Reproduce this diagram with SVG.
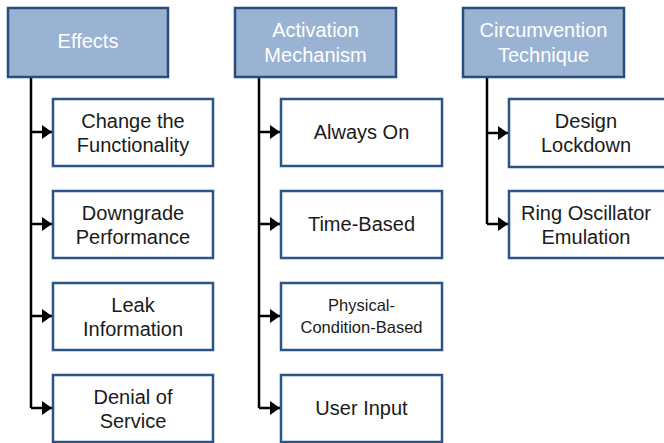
<svg xmlns="http://www.w3.org/2000/svg" width="664" height="443" viewBox="0 0 664 443">
  <style>
    .head rect { fill: #9ab3d3; stroke: #264f80; stroke-width: 2.5; }
    .head text { fill: #ffffff; font-family: "Liberation Sans", Arial, sans-serif; font-size: 20px; text-anchor: middle; }
    .leaf rect { fill: #ffffff; stroke: #2b5587; stroke-width: 2.5; }
    .leaf text { fill: #1a1a1a; font-family: "Liberation Sans", Arial, sans-serif; font-size: 20px; text-anchor: middle; }
    .leaf text.small { font-size: 16.5px; }
    .wire { fill: none; stroke: #000000; stroke-width: 2.5; }
  </style>
  <defs>
    <marker id="arrow" viewBox="0 0 10 14" refX="10" refY="7" markerWidth="10" markerHeight="14" markerUnits="userSpaceOnUse" orient="auto">
      <path d="M0,0 L10,7 L0,14 Z" fill="#000000"/>
    </marker>
  </defs>

  <rect width="664" height="443" fill="#ffffff"/>

  <!-- connectors -->
  <g id="connectors">
    <path class="wire" d="M31,77 V408"/>
    <path class="wire" d="M31,132 H52" marker-end="url(#arrow)"/>
    <path class="wire" d="M31,224 H52" marker-end="url(#arrow)"/>
    <path class="wire" d="M31,316 H52" marker-end="url(#arrow)"/>
    <path class="wire" d="M31,408 H52" marker-end="url(#arrow)"/>

    <path class="wire" d="M259,77 V408"/>
    <path class="wire" d="M259,132 H280" marker-end="url(#arrow)"/>
    <path class="wire" d="M259,224 H280" marker-end="url(#arrow)"/>
    <path class="wire" d="M259,316 H280" marker-end="url(#arrow)"/>
    <path class="wire" d="M259,408 H280" marker-end="url(#arrow)"/>

    <path class="wire" d="M487,77 V224"/>
    <path class="wire" d="M487,133 H508" marker-end="url(#arrow)"/>
    <path class="wire" d="M487,224 H508" marker-end="url(#arrow)"/>
  </g>

  <!-- column 1 -->
  <g id="effects" class="head">
    <rect x="8" y="8" width="160" height="69"/>
    <text x="88" y="48">Effects</text>
  </g>
  <g id="change-functionality" class="leaf">
    <rect x="53" y="99" width="160" height="67"/>
    <text x="133" y="128">Change the</text>
    <text x="133" y="152">Functionality</text>
  </g>
  <g id="downgrade-performance" class="leaf">
    <rect x="53" y="191" width="160" height="67"/>
    <text x="133" y="220">Downgrade</text>
    <text x="133" y="244">Performance</text>
  </g>
  <g id="leak-information" class="leaf">
    <rect x="53" y="283" width="160" height="67"/>
    <text x="133" y="312">Leak</text>
    <text x="133" y="336">Information</text>
  </g>
  <g id="denial-of-service" class="leaf">
    <rect x="53" y="375" width="160" height="67"/>
    <text x="133" y="404">Denial of</text>
    <text x="133" y="428">Service</text>
  </g>

  <!-- column 2 -->
  <g id="activation-mechanism" class="head">
    <rect x="235" y="8" width="161" height="69"/>
    <text x="315.5" y="37">Activation</text>
    <text x="315.5" y="62">Mechanism</text>
  </g>
  <g id="always-on" class="leaf">
    <rect x="281" y="99" width="161" height="67"/>
    <text x="361.5" y="139">Always On</text>
  </g>
  <g id="time-based" class="leaf">
    <rect x="281" y="191" width="161" height="67"/>
    <text x="361.5" y="231">Time-Based</text>
  </g>
  <g id="physical-condition-based" class="leaf">
    <rect x="281" y="283" width="161" height="67"/>
    <text class="small" x="361.5" y="311">Physical-</text>
    <text class="small" x="361.5" y="333">Condition-Based</text>
  </g>
  <g id="user-input" class="leaf">
    <rect x="281" y="375" width="161" height="67"/>
    <text x="361.5" y="415">User Input</text>
  </g>

  <!-- column 3 -->
  <g id="circumvention-technique" class="head">
    <rect x="463" y="8" width="161" height="69"/>
    <text x="543.5" y="37">Circumvention</text>
    <text x="543.5" y="62">Technique</text>
  </g>
  <g id="design-lockdown" class="leaf">
    <rect x="509" y="99" width="161" height="68"/>
    <text x="586" y="128">Design</text>
    <text x="586" y="152">Lockdown</text>
  </g>
  <g id="ring-oscillator-emulation" class="leaf">
    <rect x="509" y="191" width="161" height="67"/>
    <text x="586" y="220">Ring Oscillator</text>
    <text x="586" y="244">Emulation</text>
  </g>
</svg>
